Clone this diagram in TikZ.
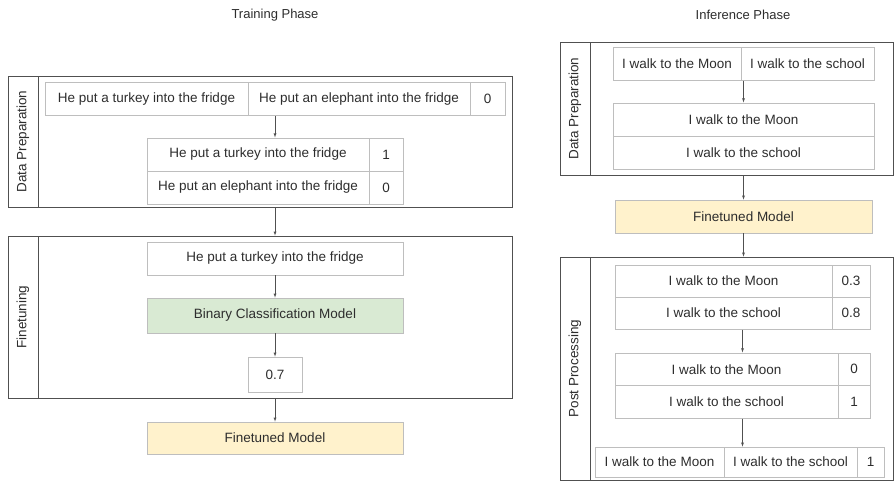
\documentclass[tikz,border=0pt]{standalone}
\usepackage{fontspec}
\setmainfont{Liberation Sans}
\usepackage{tikz}
\usetikzlibrary{positioning,fit,arrows}
\definecolor{linegrey}{RGB}{190,190,190}
\definecolor{boxgrey}{RGB}{80,80,80}
\definecolor{txtgrey}{RGB}{45,45,45}
\definecolor{mintgreen}{RGB}{217,234,211}
\definecolor{paleyellow}{RGB}{255,242,204}

\begin{document}
\begin{tikzpicture}[x=1pt,y=-1pt, every node/.style={text=txtgrey}]
\tikzstyle{cell}=[draw=linegrey,line width=0.8pt,inner sep=0pt,minimum height=33pt,font=\fontsize{13.5}{16}\selectfont]
\tikzstyle{stage}=[draw=boxgrey,line width=0.8pt,inner sep=0pt]
\tikzstyle{stagelab}=[stage,rotate=90,minimum height=30pt,font=\fontsize{13.5}{16}\selectfont]
\tikzstyle{grp}=[inner sep=0pt]
\tikzstyle{phase}=[font=\fontsize{13}{15}\selectfont]
\useasboundingbox (0,0) rectangle (894,482);

\node[phase] (ttl1) at (275,15) {Training Phase};
\node[phase] (ttl2) at (743,15) {Inference Phase};

% training: data preparation
\node[stagelab,minimum width=131pt] (dpL) at (23,141.5) {Data Preparation};
\node[stage,minimum width=474pt,minimum height=131pt] (dp) at (275,141.5) {};
\node[cell,minimum width=203pt] (a1) at (146.5,99) {He put a turkey into the fridge};
\node[cell,minimum width=222pt] (a2) at (359,99) {He put an elephant into the fridge};
\node[cell,minimum width=35pt] (a3) at (487.5,99) {0};
\node[grp,fit=(a1)(a3)] (pair) {};
\node[cell,minimum width=222pt] (b1) at (258,154.5) {He put a turkey into the fridge};
\node[cell,minimum width=34pt] (b2) at (386,154.5) {1};
\node[cell,minimum width=222pt] (b3) at (258,187.5) {He put an elephant into the fridge};
\node[cell,minimum width=34pt] (b4) at (386,187.5) {0};
\node[grp,fit=(b1)(b4)] (labelled) {};

% training: finetuning
\node[stagelab,minimum width=162pt] (ftL) at (23,317) {Finetuning};
\node[stage,minimum width=474pt,minimum height=162pt] (ft) at (275,317) {};
\node[cell,minimum width=256pt] (inp) at (275,258.5) {He put a turkey into the fridge};
\node[cell,minimum width=256pt,minimum height=35pt,fill=mintgreen] (bcm) at (275,315.5) {Binary Classification Model};
\node[cell,minimum width=54pt,minimum height=35pt] (score) at (275,374.5) {0.7};
\node[cell,minimum width=256pt,minimum height=32pt,fill=paleyellow] (fm1) at (275,438) {Finetuned Model};

\draw[->,>=latex,boxgrey] (pair) -- (labelled);
\draw[->,>=latex,boxgrey] (dp) -- (ft);
\draw[->,>=latex,boxgrey] (inp) -- (bcm);
\draw[->,>=latex,boxgrey] (bcm) -- (score);
\draw[->,>=latex,boxgrey] (ft) -- (fm1);

% inference: data preparation
\node[stagelab,minimum width=133pt] (dprL) at (575,108.5) {Data Preparation};
\node[stage,minimum width=303pt,minimum height=133pt] (dpr) at (741.5,108.5) {};
\node[cell,minimum width=128pt] (c1) at (677,63.5) {I walk to the Moon};
\node[cell,minimum width=133pt] (c2) at (807.5,63.5) {I walk to the school};
\node[grp,fit=(c1)(c2)] (sents) {};
\node[cell,minimum width=261pt] (d1) at (743.5,119.5) {I walk to the Moon};
\node[cell,minimum width=261pt] (d2) at (743.5,152.5) {I walk to the school};
\node[grp,fit=(d1)(d2)] (split) {};
\node[cell,minimum width=257pt,fill=paleyellow] (fm2) at (743.5,216.5) {Finetuned Model};

% inference: post processing
\node[stagelab,minimum width=223pt] (ppL) at (575,368.5) {Post Processing};
\node[stage,minimum width=303pt,minimum height=223pt] (pp) at (741.5,368.5) {};
\node[cell,minimum width=217pt,minimum height=32pt] (p1) at (723.5,281) {I walk to the Moon};
\node[cell,minimum width=38pt,minimum height=32pt] (p2) at (851,281) {0.3};
\node[cell,minimum width=217pt,minimum height=32pt] (p3) at (723.5,313) {I walk to the school};
\node[cell,minimum width=38pt,minimum height=32pt] (p4) at (851,313) {0.8};
\node[grp,fit=(p1)(p4)] (probs) {};
\node[cell,minimum width=223pt,minimum height=32.5pt] (q1) at (726.5,369.25) {I walk to the Moon};
\node[cell,minimum width=32pt,minimum height=32.5pt] (q2) at (854,369.25) {0};
\node[cell,minimum width=223pt,minimum height=32.5pt] (q3) at (726.5,401.75) {I walk to the school};
\node[cell,minimum width=32pt,minimum height=32.5pt] (q4) at (854,401.75) {1};
\node[grp,fit=(q1)(q4)] (hard) {};
\node[cell,minimum width=129pt,minimum height=30pt] (r1) at (659.5,462) {I walk to the Moon};
\node[cell,minimum width=133pt,minimum height=30pt] (r2) at (790.5,462) {I walk to the school};
\node[cell,minimum width=27pt,minimum height=30pt] (r3) at (870.5,462) {1};

\draw[->,>=latex,boxgrey] (sents) -- (split);
\draw[->,>=latex,boxgrey] (fm2 |- dpr.south) -- (fm2);
\draw[->,>=latex,boxgrey] (fm2) -- (fm2 |- pp.north);
\draw[->,>=latex,boxgrey] (probs) -- (probs |- hard.north);
\draw[->,>=latex,boxgrey] (hard) -- (hard |- r2.north);
\end{tikzpicture}
\end{document}
